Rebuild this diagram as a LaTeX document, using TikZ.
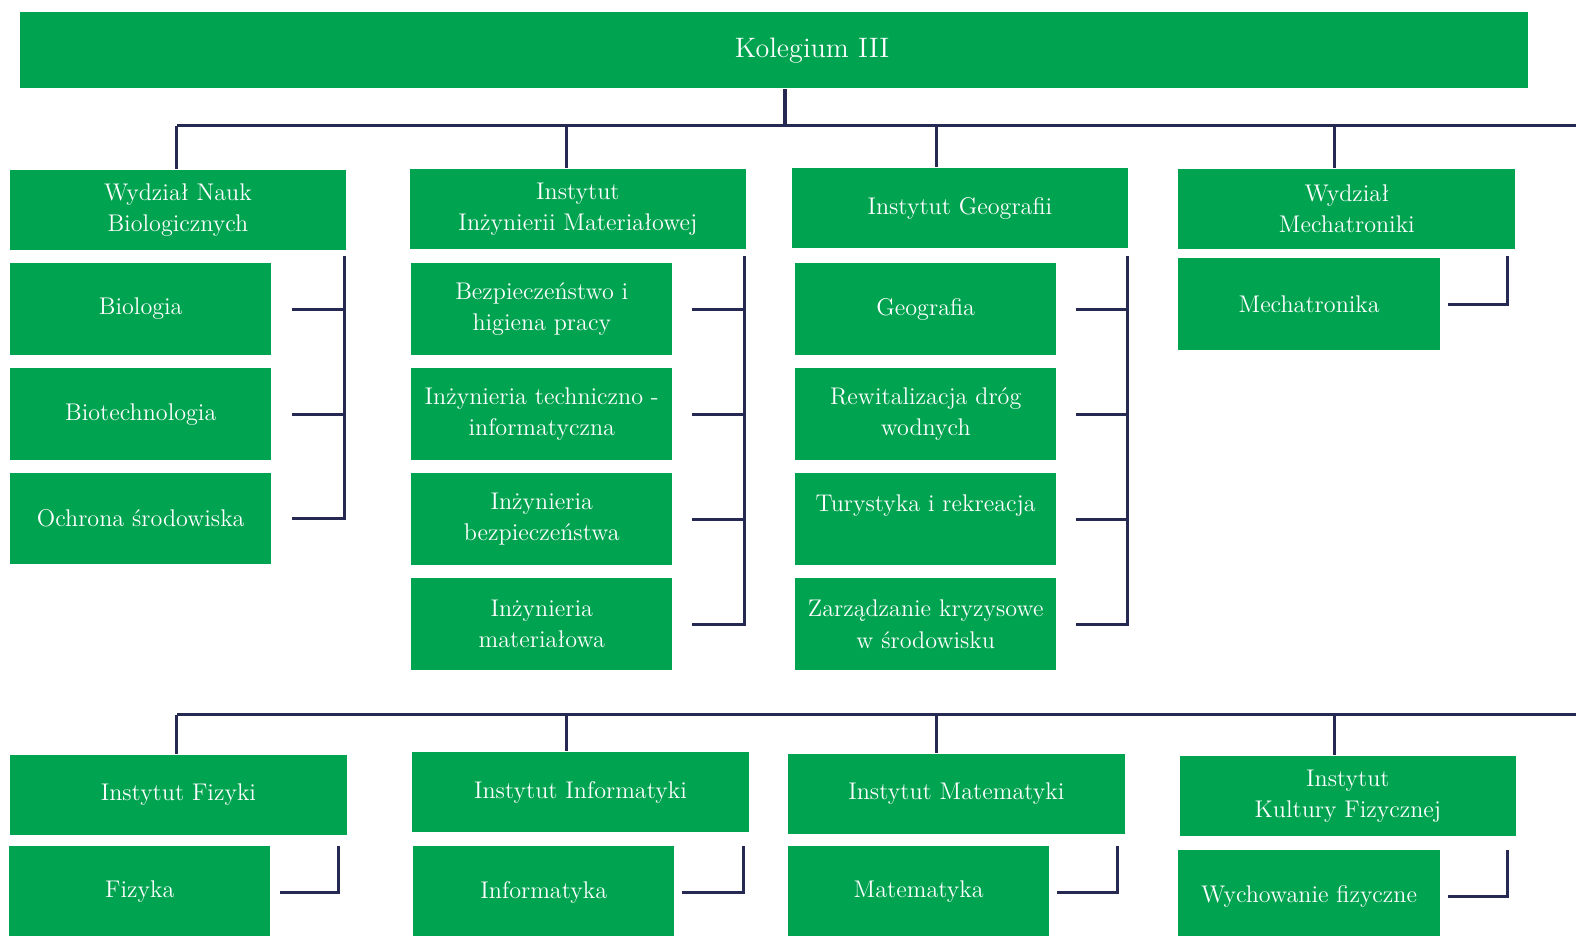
\documentclass[tikz,border=0pt]{standalone}
\usepackage{fontspec}
\usepackage{tikz}

\definecolor{boxgreen}{RGB}{0,163,80}
\definecolor{linkblue}{RGB}{38,42,82}
\tikzset{
  box/.style={rectangle, fill=boxgreen, text=white, align=center, inner sep=1pt, font=\fontsize{12}{15.5}\selectfont},
  head/.style={box, minimum width=167.5pt, minimum height=40pt},
  leaf/.style={box, minimum width=130pt, minimum height=45.5pt},
  link/.style={draw=linkblue, line width=1.5pt},
}

\begin{document}
\begin{tikzpicture}[x=0.5pt,y=0.5pt,yscale=-1,xscale=1]
\path[use as bounding box, clip] (0,0) rectangle (1568,931);

% Text Node
\node[box, minimum width=750pt, minimum height=38pt, font=\fontsize{14}{17}\selectfont] (kol) at (770,50) {\hspace*{38pt}Kolegium III};

% Upper units
\node[head] (wnb) at (177,209) {Wydział Nauk\\Biologicznych};
\node[head] (iim) at (575,208) {Instytut\\Inżynierii Materiałowej};
\node[head] (igeo) at (955,207) {Instytut Geografii};
\node[head] (wmech) at (1340,208) {Wydział\\Mechatroniki};

\node[leaf] (biol) at (140,307.5) {Biologia};
\node[leaf] (biot) at (140,412) {Biotechnologia};
\node[leaf] (ochr) at (140,516) {Ochrona środowiska};

\node[leaf] (bhp) at (539,307.5) {Bezpieczeństwo i\\higiena pracy};
\node[leaf] (itinf) at (539,412) {Inżynieria techniczno -\\informatyczna};
\node[leaf] (ibez) at (539,516.5) {Inżynieria\\bezpieczeństwa};
\node[leaf] (imat) at (539,621) {Inżynieria\\materiałowa};

\node[leaf] (geo) at (921,307.5) {Geografia};
\node[leaf] (rew) at (921,412) {Rewitalizacja dróg\\wodnych};
\node[leaf] (tur) at (921,516.5) {Turystyka i rekreacja\\~};
\node[leaf] (zarz) at (921,621) {Zarządzanie kryzysowe\\w środowisku};

\node[leaf] (mech) at (1302.5,302.5) {Mechatronika};

% Lower units
\node[head] (ifiz) at (177.5,791) {Instytut Fizyki};
\node[head] (iinf) at (577.5,788) {Instytut Informatyki};
\node[head] (imatm) at (951.5,790) {Instytut Matematyki};
\node[head] (ikf) at (1341,792) {Instytut\\Kultury Fizycznej};

\node[leaf] (fiz) at (139,887.5) {Fizyka};
\node[leaf] (inf) at (541,887.5) {Informatyka};
\node[leaf] (mat) at (914,887.5) {Matematyka};
\node[leaf] (wf) at (1302.5,891.5) {Wychowanie fizyczne};

% Upper bus
\coordinate (j0) at (781,125);
\coordinate (d1) at (176,125);
\coordinate (d2) at (564,125);
\coordinate (d3) at (932,125);
\coordinate (d4) at (1328,125);
\coordinate (busR) at (1568,125);
\draw[link] (kol.south -| j0) -- (j0);
\draw[link] (d1) -- (busR);
\draw[link] (d1) -- (d1 |- wnb.north);
\draw[link] (d2) -- (d2 |- iim.north);
\draw[link] (d3) -- (d3 |- igeo.north);
\draw[link] (d4) -- (d4 |- wmech.north);

% Lower bus
\coordinate (e1) at (176,711);
\coordinate (e2) at (564,711);
\coordinate (e3) at (932,711);
\coordinate (e4) at (1328,711);
\coordinate (busR2) at (1568,711);
\draw[link] (e1) -- (busR2);
\draw[link] (e1) -- (e1 |- ifiz.north);
\draw[link] (e2) -- (e2 |- iinf.north);
\draw[link] (e3) -- (e3 |- imatm.north);
\draw[link] (e4) -- (e4 |- ikf.north);

% Brackets, upper
\coordinate (sp1) at (343,255);
\draw[link] ([xshift=10pt]biol.east) -| (sp1);
\draw[link] ([xshift=10pt]biot.east) -| (sp1);
\draw[link] ([xshift=10pt]ochr.east) -| (sp1);

\coordinate (sp2) at (741,255);
\draw[link] ([xshift=9.5pt]bhp.east) -| (sp2);
\draw[link] ([xshift=9.5pt]itinf.east) -| (sp2);
\draw[link] ([xshift=9.5pt]ibez.east) -| (sp2);
\draw[link] ([xshift=9.5pt]imat.east) -| (sp2);

\coordinate (sp3) at (1122,255);
\draw[link] ([xshift=9.5pt]geo.east) -| (sp3);
\draw[link] ([xshift=9.5pt]rew.east) -| (sp3);
\draw[link] ([xshift=9.5pt]tur.east) -| (sp3);
\draw[link] ([xshift=9.5pt]zarz.east) -| (sp3);

\coordinate (sp4) at (1500,255);
\draw[link] ([xshift=4pt]mech.east) -| (sp4);

% Brackets, lower
\coordinate (sp5) at (337,842);
\draw[link] ([xshift=4.5pt]fiz.east) -| (sp5);
\coordinate (sp6) at (740,842);
\draw[link] ([xshift=3.5pt]inf.east) -| (sp6);
\coordinate (sp7) at (1112,842);
\draw[link] ([xshift=3.5pt]mat.east) -| (sp7);
\coordinate (sp8) at (1500,846);
\draw[link] ([xshift=4pt]wf.east) -| (sp8);

\end{tikzpicture}
\end{document}
